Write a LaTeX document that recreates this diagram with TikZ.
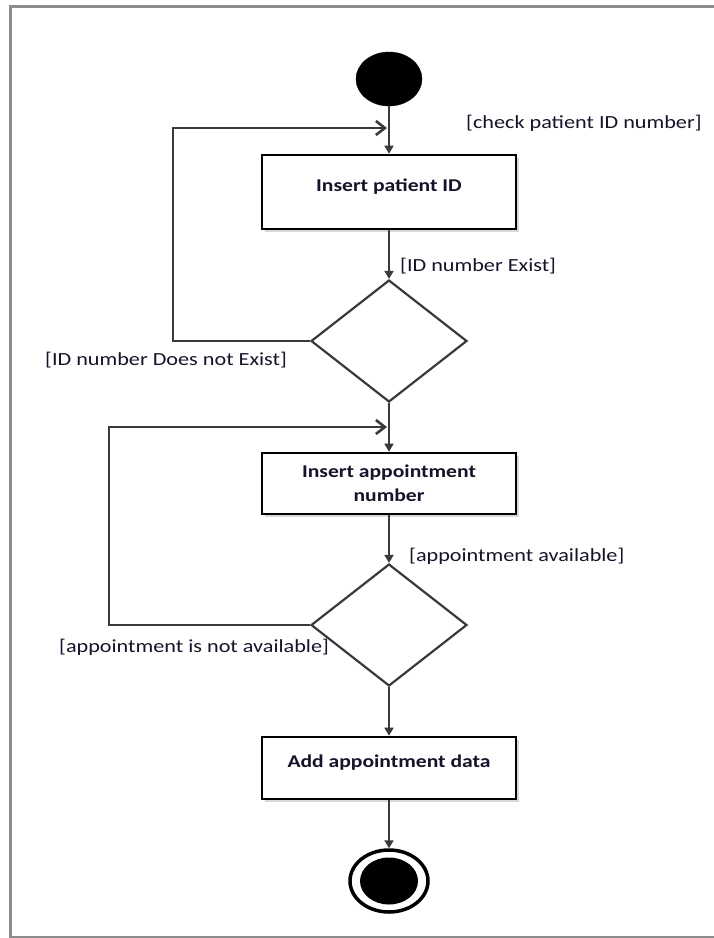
\documentclass[tikz,border=0pt]{standalone}
\usepackage{fontspec}
\setmainfont{Carlito}[FakeStretch=1.2]
\usetikzlibrary{arrows.meta,shapes.geometric,shadows}
\definecolor{framegray}{HTML}{8C8C8C}
\definecolor{linegray}{HTML}{3A3A3A}
\definecolor{txt}{HTML}{14142A}
\begin{document}
\begin{tikzpicture}[x=1pt,y=-1pt,
  actbox/.style={draw=black, line width=2.6pt, fill=white, minimum width=254pt,
    inner sep=0pt, text=txt, font=\bfseries\fontsize{18}{24}\selectfont, align=center,
    drop shadow={shadow xshift=2.5pt, shadow yshift=-2.5pt, fill=black!30, opacity=0.5}},
  decision/.style={diamond, draw=linegray, line width=2.2pt, fill=white,
    minimum width=156pt, minimum height=122pt, inner sep=0pt},
  lab/.style={font=\fontsize{18.5}{22}\selectfont, text=txt, inner sep=0pt, anchor=west},
  flow/.style={draw=linegray, line width=1.8pt, -{Triangle[length=8pt,width=9pt]}},
  loopline/.style={draw=linegray, line width=2.6pt, -{Straight Barb[length=9pt,width=14pt]}, shorten >=2pt}
]
\useasboundingbox (0,0) rectangle (714,938);
\draw[framegray, line width=3pt] (714,6) -- (10,6) -- (10,937) -- (714,937);

\node[ellipse, fill=black, draw=black, minimum width=66pt, minimum height=54pt, inner sep=0pt] (s) at (389,79) {};
\node[actbox, minimum height=74pt, text height=12pt, text depth=14pt] (b1) at (389,192) {Insert patient ID};
\node[decision] (d1) at (389,341) {};
\node[actbox, minimum height=61pt] (b2) at (389,483.5) {Insert appointment\\number};
\node[decision] (d2) at (389,625) {};
\node[actbox, minimum height=62pt, text height=12pt, text depth=14pt] (b3) at (389,768) {Add appointment data};
\node[ellipse, draw=black, line width=3.5pt, fill=white, minimum width=78pt, minimum height=62pt, inner sep=0pt] (e) at (389,881) {};
\node[ellipse, fill=black, minimum width=58pt, minimum height=47pt, inner sep=0pt] (ei) at (389,881) {};

\coordinate (j1) at (389,128);
\coordinate (c1) at (173,128);
\coordinate (j2) at (389,427);
\coordinate (c2) at (109,427);

\draw[flow] (s) -- (b1);
\draw[flow] (b1) -- (d1);
\draw[flow] (d1) -- (b2);
\draw[flow] (b2) -- (d2);
\draw[flow] (d2) -- (b3);
\draw[flow] (b3) -- (e);

\draw[loopline] (d1.west) -| (c1) -- (j1);
\draw[loopline] (d2.west) -| (c2) -- (j2);

\node[lab] (l1) at (466,123) {[check patient ID number]};
\node[lab] (l2) at (400,266) {[ID number Exist]};
\node[lab] (l3) at (45,360) {[ID number Does not Exist]};
\node[lab] (l4) at (409,556) {[appointment available]};
\node[lab] (l5) at (59,647) {[appointment is not available]};
\end{tikzpicture}
\end{document}
